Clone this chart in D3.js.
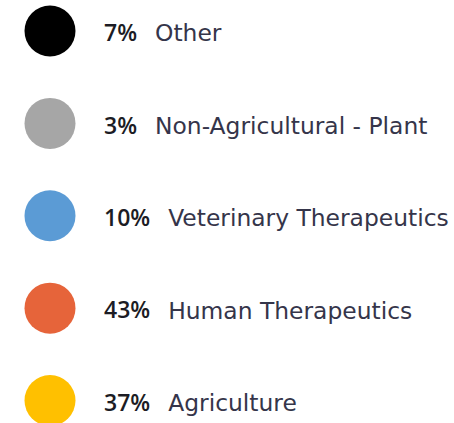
<!DOCTYPE html>
<html>
<head>
<meta charset="utf-8">
<script src="https://cdn.jsdelivr.net/npm/d3@7"></script>
<style>
  html, body { margin: 0; padding: 0; background: #fff; }
  svg { display: block; }
</style>
</head>
<body>
<svg id="chart" width="454" height="423"></svg>
<script>
const categories = ["Other", "Non-Agricultural - Plant", "Veterinary Therapeutics", "Human Therapeutics", "Agriculture"];
const shares = [7, 3, 10, 43, 37];
const colors = ["#000000", "#a6a6a6", "#5b9bd5", "#e6643a", "#ffc000"];

const svg = d3.select("#chart");
const y = d3.scalePoint().domain(categories).range([33, 402.5]);
const color = d3.scaleOrdinal().domain(categories).range(colors);

const rows = svg.selectAll("g.row")
  .data(categories.map((c, i) => ({ name: c, value: shares[i] })))
  .join("g")
  .attr("class", "row")
  .attr("transform", d => `translate(0,${y(d.name)})`);

rows.append("circle")
  .attr("cx", 50)
  .attr("cy", -2)
  .attr("r", 25.5)
  .attr("fill", d => color(d.name));

rows.append("text")
  .attr("x", 104)
  .attr("dy", "0.36em")
  .attr("font-family", "'Open Sans', sans-serif")
  .attr("font-weight", 600)
  .attr("font-size", 23)
  .attr("fill", "#1c1c24")
  .text(d => d.value + "%");

rows.each(function() {
  const g = d3.select(this);
  const w = g.select("text").node().getComputedTextLength();
  g.append("text")
    .attr("x", 104 + w + 18)
    .attr("dy", "0.36em")
    .attr("font-family", "'DejaVu Sans', sans-serif")
    .attr("font-size", 23.4)
    .attr("fill", "#35354a")
    .text(d => d.name);
});
</script>
</body>
</html>
